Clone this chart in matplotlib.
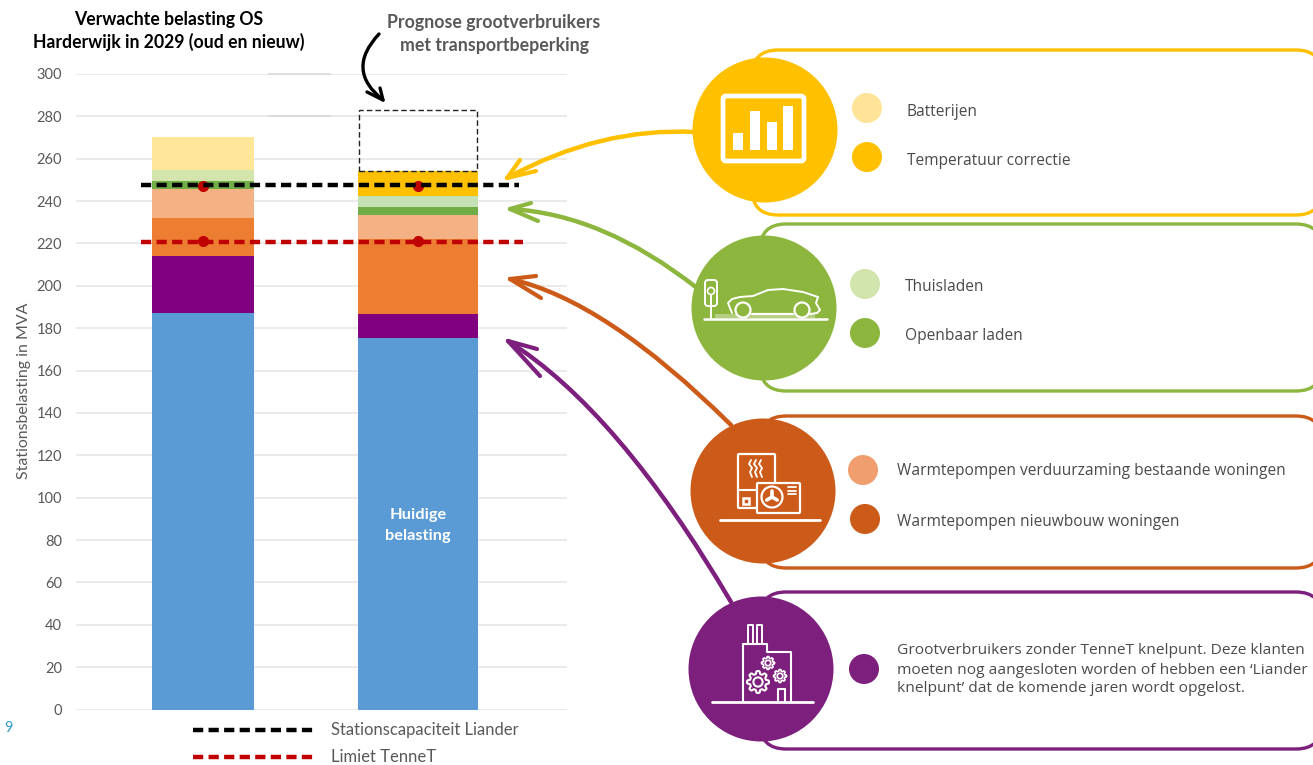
import matplotlib
matplotlib.use('agg')
import matplotlib.pyplot as plt
from matplotlib.patches import Circle, FancyBboxPatch, PathPatch, Rectangle
from matplotlib.path import Path
import numpy as np

W, H = 1313, 765

# data, bottom to top
segments = ['Huidig', 'Grootverbruikers', 'WP nieuwbouw', 'WP bestaand', 'Openbaar laden',
            'Thuisladen', 'Temperatuur', 'Batterijen']
left_bar = [187, 27, 18, 13.7, 3.8, 5.2, 0, 15.5]
right_bar = [175.2, 11.3, 35.5, 11.5, 3.5, 5.4, 11.8, 0]
segment_colors = ['#5B9BD5', '#800080', '#ED7D31', '#F4B183', '#70AD47', '#C5E0B4', '#FFC000', '#FFE699']
left_light_green = '#D3E5AD'
prognose_extra = 28.8
capaciteit_liander = 247.7
limiet_tennet = 220.5
punt_liander = 247
punt_tennet = 221
yticks = list(range(0, 301, 20))

plt.rcParams['font.family'] = ['Lato', 'DejaVu Sans']
fig = plt.figure(figsize=(W / 100, H / 100), dpi=100, facecolor='white')

# bar chart
ax = fig.add_axes([76 / W, (H - 709.5) / H, (567 - 76) / W, (709.5 - 74) / H])
ax.set_xlim((76 - 203) / 215, (567 - 203) / 215)
ax.set_ylim(0, 300)
for s in ax.spines.values():
    s.set_visible(False)
ax.set_yticks(yticks)
ax.set_xticks([])
ax.tick_params(axis='y', length=0, pad=10, labelsize=10.5, labelcolor='#595959')
ax.grid(axis='y', color='#e6e6e6', lw=1.2)
ax.set_axisbelow(True)

bottom = 0
for val, col, name in zip(left_bar, segment_colors, segments):
    ax.bar(0, val, 0.474, bottom=bottom, color=left_light_green if name == 'Thuisladen' else col)
    bottom += val
bottom = 0
for val, col in zip(right_bar, segment_colors):
    ax.bar(1, val, 0.558, bottom=bottom, color=col)
    bottom += val
ax.bar(1, prognose_extra, 0.548, bottom=bottom, facecolor='none', edgecolor='#222222',
       linestyle=(0, (4, 2.2)), lw=1)

ax.plot([0, 1], [punt_liander] * 2, 'o', color='#C00000', ms=7, zorder=4)
ax.plot([0, 1], [punt_tennet] * 2, 'o', color='#C00000', ms=7, zorder=6)
ax.plot([-0.288, 1.47], [capaciteit_liander] * 2, color='black', lw=3.2, dashes=(2.3, 1.2), zorder=5)
ax.plot([-0.288, 1.488], [limiet_tennet] * 2, color='#C00000', lw=3.2, dashes=(2.3, 1.2), zorder=5)

# overlay in pixels for the text and the drawn panels
ov = fig.add_axes([0, 0, 1, 1], facecolor='none')
ov.set_xlim(0, W)
ov.set_ylim(H, 0)
ov.axis('off')


def label(x, y, s, size=11.2, color='#4a4a4a', family='Open Sans', **kw):
    ov.text(x, y, s, fontsize=size, color=color, family=family, va='center', **kw)


def curve(pts, color, lw=3.2, z=3):
    codes = [Path.MOVETO] + [Path.CURVE3] * (len(pts) - 1)
    ov.add_patch(PathPatch(Path(pts, codes), fc='none', ec=color, lw=lw, capstyle='round', zorder=z))


def line(xs, ys, color='white', lw=2, z=6):
    ov.plot(xs, ys, color=color, lw=lw, solid_capstyle='round', solid_joinstyle='round', zorder=z)


def gear(x, y, r, lw=1.4, n=8):
    a = np.linspace(0, 2 * np.pi, 160)
    rr = r * (0.87 + 0.13 * np.tanh(2.5 * np.cos(n * a)))
    line(x + rr * np.cos(a), y + rr * np.sin(a), lw=lw)
    ov.add_patch(Circle((x, y), r * 0.42, fc='none', ec='white', lw=lw, zorder=6))


# titles
label(169, 19, 'Verwachte belasting OS', size=12.7, color='black', family='Lato', weight='bold', ha='center')
label(169, 42, 'Harderwijk in 2029 (oud en nieuw)', size=12.7, color='black', family='Lato', weight='bold', ha='center')
label(494, 22, 'Prognose grootverbruikers', size=12.75, color='#595959', family='Lato', weight='bold', ha='center')
label(494, 45, 'met transportbeperking', size=12.75, color='#595959', family='Lato', weight='bold', ha='center')
ov.text(24, 391, 'Stationsbelasting in MVA', fontsize=11.4, color='#595959', rotation=90, ha='center', va='center')
label(418, 515, 'Huidige', size=11.8, color='white', family='Lato', weight='bold', ha='center', zorder=7)
label(418, 536, 'belasting', size=11.8, color='white', family='Lato', weight='bold', ha='center', zorder=7)
label(4, 728, '9', size=10.5, color='#2E9CCA', family='Lato')

# stray darker bits of gridline
for yy in (73.5, 116):
    ov.plot([269, 330], [yy, yy], color='#d9d9d9', lw=1.2, zorder=2)

# legend of the limits
for yy, col, txt in [(730, 'black', 'Stationscapaciteit Liander'), (757, '#C00000', 'Limiet TenneT')]:
    ov.plot([193, 314], [yy, yy], color=col, lw=3.2, dashes=(2.3, 1.2))
    label(331, yy, txt, size=12, color='#595959', family='Lato')

# black arrow
curve([(379, 34), (345, 70), (383, 100)], 'black', lw=2.4)
line([367, 383, 380], [92, 100, 88], color='black', lw=2.4)

# panels: colour, box left/top/bottom, circle centre
YEL, GRN, ORA, PUR = '#FFC000', '#8DB63F', '#CC5A19', '#7D1F7D'
panels = [(YEL, 752, 50, 215, 765, 130), (GRN, 760, 224, 391, 764, 308),
          (ORA, 760, 416, 568, 763, 491), (PUR, 760, 592, 749, 761, 669)]
for col, x0, y0, y1, cx, cy in panels:
    ov.add_patch(FancyBboxPatch((x0, y0), 1322 - x0, y1 - y0, boxstyle='round,pad=0,rounding_size=26',
                                fc='white', ec=col, lw=2.4, zorder=1))
    ov.add_patch(Circle((cx, cy), 72.5, fc=col, ec='none', zorder=5))

# arrows towards the bars
curve([(695, 132), (600, 127), (507, 178)], YEL)
line([536, 507, 520], [171, 178, 160], color=YEL, lw=3)
curve([(697, 288), (603, 214), (510, 209)], GRN)
line([531, 510, 538], [203, 209, 221], color=GRN, lw=3)
curve([(731, 425), (605, 300), (510, 279)], ORA)
line([536, 510, 541], [276, 279, 298], color=ORA, lw=3)
curve([(731, 602), (618, 410), (508, 341)], PUR)
line([537, 508, 540], [349, 341, 376], color=PUR, lw=3)

# legend dots and labels
dots = [(867, 108, '#FFE398'), (867, 157, YEL), (865, 284, '#D2E5AD'), (865, 333, GRN),
        (863, 470, '#F09E6E'), (865, 519, ORA), (864, 669, PUR)]
for x, y, col in dots:
    ov.add_patch(Circle((x, y), 15, fc=col, ec='none', zorder=5))
label(907, 111.5, 'Batterijen')
label(907, 160.5, 'Temperatuur correctie')
label(905, 286.5, 'Thuisladen')
label(905, 335.5, 'Openbaar laden')
label(897, 470.5, 'Warmtepompen verduurzaming bestaande woningen')
label(897, 521.5, 'Warmtepompen nieuwbouw woningen')
label(897, 651, 'Grootverbruikers zonder TenneT knelpunt. Deze klanten', size=11.15)
label(897, 670, 'moeten nog aangesloten worden of hebben een \u2018Liander', size=11.15)
label(897, 688.5, 'knelpunt\u2019 dat de komende jaren wordt opgelost.', size=11.15)

# icon bars
ov.add_patch(FancyBboxPatch((723, 96), 81, 65, boxstyle='round,pad=0,rounding_size=3',
                            fc='none', ec='white', lw=3.4, zorder=6))
for x, top in [(733, 133), (750, 111), (767, 122), (783, 106)]:
    ov.add_patch(Rectangle((x, top), 10, 150 - top, fc='white', ec='none', zorder=6))

# icon car
ov.add_patch(Rectangle((715, 314), 100, 4, fc='white', ec='none', alpha=0.35, zorder=6))
line([704, 827], [319, 319], lw=1.8)
ov.add_patch(FancyBboxPatch((705, 280), 12, 26, boxstyle='round,pad=0,rounding_size=3',
                            fc='none', ec='white', lw=1.4, zorder=6))
ov.add_patch(Circle((711, 291), 3.5, fc='none', ec='white', lw=1.2, zorder=6))
line([711, 711], [295, 319], lw=1.4)
line([732, 728, 732, 740, 753, 768, 783, 803, 818, 816, 820, 817, 810],
     [313, 303, 299, 297, 296, 290, 289, 292, 297, 303, 310, 313, 314], lw=1.4)
line([752, 793], [313.5, 313.5], lw=1.6)
for x in (743, 802):
    ov.add_patch(Circle((x, 310), 7.5, fc=GRN, ec='white', lw=1.6, zorder=6))

# icon heat pump
line([720, 820], [520, 520], lw=2)
ov.add_patch(FancyBboxPatch((738, 454), 37, 54, boxstyle='round,pad=0,rounding_size=1',
                            fc='none', ec='white', lw=1.6, zorder=6))
line([738, 757], [490, 490], lw=1.5)
ov.add_patch(FancyBboxPatch((757, 483), 43, 30, boxstyle='round,pad=0,rounding_size=1',
                            fc=ORA, ec='white', lw=1.6, zorder=6))
ov.add_patch(Circle((772, 497), 10.5, fc='none', ec='white', lw=1.6, zorder=7))
ov.add_patch(Rectangle((743, 498), 6, 6, fc='none', ec='white', lw=1.8, zorder=6))
for x in (751, 756, 761):
    line([x, x - 2, x + 1, x - 1, x + 1], [460, 464, 468, 472, 477], lw=1.3)
for y in (487, 490.5, 494):
    line([788, 796], [y, y], lw=1.3)
for a in (-90, 30, 150):
    line([772, 772 + 6 * np.cos(np.radians(a))], [497, 497 + 6 * np.sin(np.radians(a))], lw=2.6, z=8)

# icon factory
line([712, 813], [702, 702], lw=2)
line([743, 743, 767, 767, 791, 791], [702, 644, 644, 652, 652, 702], lw=1.5)
line([748, 748, 753, 753], [644, 625, 625, 644], lw=1.4)
line([757, 757, 762, 762], [644, 625, 625, 644], lw=1.4)
line([778, 778, 785, 785], [702, 689, 689, 702], lw=1.5)
gear(758, 682, 11, lw=1.5)
gear(768, 663, 6.5, lw=1.2)
gear(780, 676, 6.5, lw=1.2)

fig.savefig('out.png', dpi=100)
